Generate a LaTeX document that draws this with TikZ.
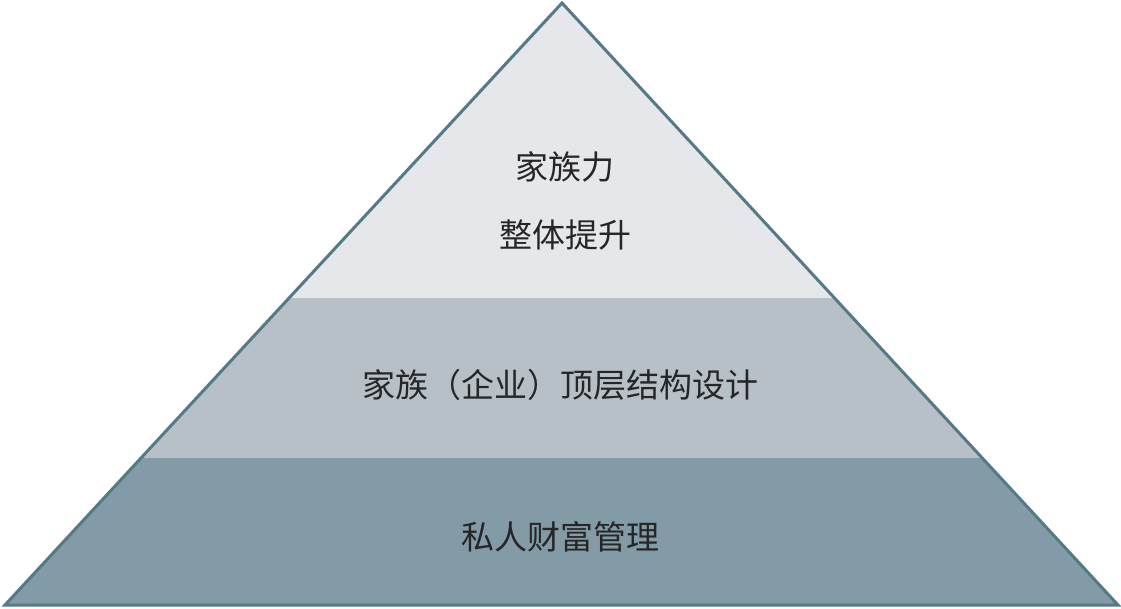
\documentclass[tikz,border=0pt]{standalone}
\usepackage{fontspec}
\newfontfamily\cjk{Noto Sans CJK SC}
\begin{document}
\begin{tikzpicture}[x=1pt,y=-1pt,
  lbl/.style={font=\cjk\fontsize{33}{40}\selectfont,text=black!85,align=center}]
\useasboundingbox (0,0) rectangle (1121,608);
\fill[fill={rgb,255:red,229;green,231;blue,234}] (562,3) -- (289,298) -- (834,298) -- cycle;
\fill[fill={rgb,255:red,184;green,192;blue,199}] (289,298) -- (141,458) -- (982,458) -- (834,298) -- cycle;
\fill[fill={rgb,255:red,131;green,155;blue,166}] (141,458) -- (5,605) -- (1118,605) -- (982,458) -- cycle;
\draw[line width=3pt,color={rgb,255:red,85;green,122;blue,135},line join=miter] (562,3) -- (5,605) -- (1118,605) -- cycle;
\node[lbl] (a) at (565,167) {家族力};
\node[lbl] (b) at (565,235) {整体提升};
\node[lbl] (c) at (560,385) {家族（企业）顶层结构设计};
\node[lbl] (d) at (560,537) {私人财富管理};
\end{tikzpicture}
\end{document}
